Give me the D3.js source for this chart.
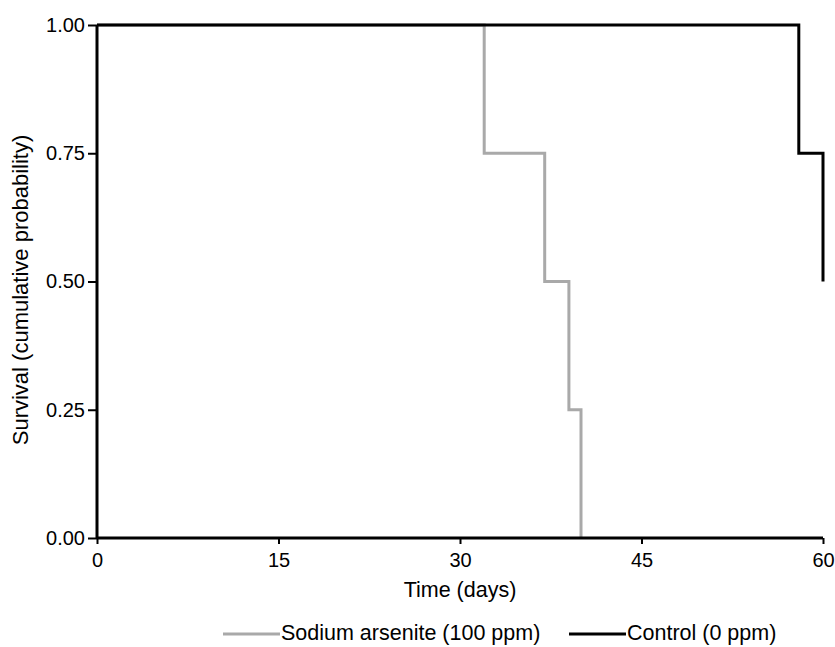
<!DOCTYPE html>
<html>
<head>
<meta charset="utf-8">
<script src="https://cdn.jsdelivr.net/npm/d3@7"></script>
<style>
  body { margin: 0; background: #fff; }
  svg { display: block; font-family: "Liberation Sans", Arial, sans-serif; }
</style>
</head>
<body>
<svg id="chart"></svg>
<script>
// survival data (Kaplan-Meier steps)
const arseniteDays = [0, 32, 37, 39, 40];
const arseniteSurvival = [1, 0.75, 0.5, 0.25, 0];
const controlDays = [0, 58, 60];
const controlSurvival = [1, 0.75, 0.5];

const xTicks = [0, 15, 30, 45, 60];
const yTicks = [0, 0.25, 0.5, 0.75, 1];
const seriesNames = ["Sodium arsenite (100 ppm)", "Control (0 ppm)"];
const seriesColors = ["#a9a9a9", "#000000"];

const width = 835, height = 647;
const margin = { top: 25, right: 12, bottom: 109, left: 97 };

const svg = d3.select("#chart")
    .attr("width", width)
    .attr("height", height);

const x = d3.scaleLinear().domain([0, 60]).range([margin.left, width - margin.right]);
const y = d3.scaleLinear().domain([0, 1]).range([height - margin.bottom, margin.top]);

const line = d3.line()
    .x(d => x(d[0]))
    .y(d => y(d[1]))
    .curve(d3.curveStepAfter);

const series = [
    d3.zip(arseniteDays, arseniteSurvival),
    d3.zip(controlDays, controlSurvival)
];

// curves (grey first so black sits on top)
svg.append("g")
    .selectAll("path")
    .data(series)
    .join("path")
    .attr("d", line)
    .attr("fill", "none")
    .attr("stroke", (d, i) => seriesColors[i])
    .attr("stroke-width", 3);

// axes
const xAxis = svg.append("g")
    .attr("transform", `translate(0,${y(0)})`)
    .call(d3.axisBottom(x).tickValues(xTicks).tickSize(6).tickPadding(9));

const yAxis = svg.append("g")
    .attr("transform", `translate(${x(0)},0)`)
    .call(d3.axisLeft(y).tickValues(yTicks).tickFormat(d3.format(".2f")).tickSize(9).tickPadding(3));

[xAxis, yAxis].forEach(g => {
    g.select(".domain").attr("stroke", "#000").attr("stroke-width", 3)
        .attr("d", g === xAxis ? `M${x(0)},0H${x(60)}` : `M0,${y(0)}V${y(1)}`);
    g.selectAll(".tick line").attr("stroke", "#000").attr("stroke-width", 2);
    g.selectAll(".tick text").attr("fill", "#000").style("font-size", "20px")
        .style("font-family", "'Liberation Sans', Arial, sans-serif");
});

// axis titles
svg.append("text")
    .attr("x", (x(0) + x(60)) / 2)
    .attr("y", 591)
    .attr("text-anchor", "middle")
    .attr("dominant-baseline", "middle")
    .style("font-size", "21.5px")
    .text("Time (days)");

svg.append("text")
    .attr("transform", "translate(22,290) rotate(-90)")
    .attr("text-anchor", "middle")
    .attr("dominant-baseline", "middle")
    .style("font-size", "22px")
    .text("Survival (cumulative probability)");

// legend
const legendX = [223, 569];
const legend = svg.append("g")
    .selectAll("g")
    .data(seriesNames)
    .join("g")
    .attr("transform", (d, i) => `translate(${legendX[i]},634)`);

legend.append("line")
    .attr("x1", 0).attr("x2", 57)
    .attr("stroke", (d, i) => seriesColors[i])
    .attr("stroke-width", 3);

legend.append("text")
    .attr("x", 58)
    .attr("dominant-baseline", "middle")
    .style("font-size", "21.5px")
    .text(d => d);
</script>
</body>
</html>
